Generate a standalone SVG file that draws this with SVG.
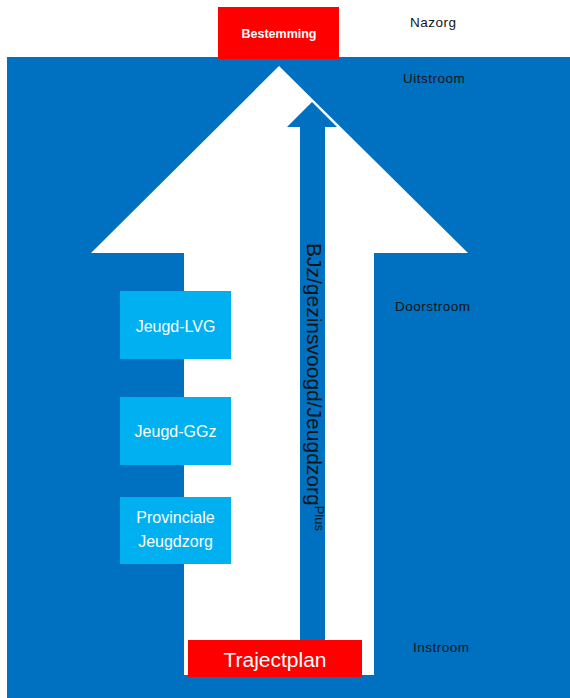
<svg xmlns="http://www.w3.org/2000/svg" width="570" height="698" viewBox="0 0 570 698">
<style>
.lbl{font-family:"Liberation Sans",Arial,sans-serif;font-size:13.5px;letter-spacing:0.5px;fill:#141414}
.box{fill:#00B0F0}
.boxt{font-family:"Liberation Sans",Arial,sans-serif;font-size:16px;fill:#ffffff;text-anchor:middle}
.red{fill:#FF0000}
</style>
<rect width="570" height="698" fill="#ffffff"/>
<rect id="background" x="7" y="57" width="563" height="641" fill="#0070C0"/>
<g id="big-arrow">
<polygon points="279,66 468,253 374,253 374,675 184,675 184,253 91,253" fill="#ffffff"/>
</g>
<g id="connectors">
<polygon points="312,102 337,127 325,127 325,640 300,640 300,127 287,127" fill="#0070C0"/>
<text transform="translate(307,243) rotate(90)" font-family="Liberation Sans,Arial,sans-serif" font-size="21" fill="#141414">BJz/gezinsvoogd/Jeugdzorg<tspan font-size="13" dy="-8">Plus</tspan></text>
</g>
<g id="bestemming">
<rect class="red" x="218" y="7" width="121" height="52"/>
<text x="279" y="38" font-family="Liberation Sans,Arial,sans-serif" font-size="12.5" font-weight="bold" fill="#ffffff" text-anchor="middle">Bestemming</text>
</g>
<g id="jeugd-lvg">
<rect class="box" x="120" y="291" width="111" height="68"/>
<text class="boxt" x="175.5" y="332">Jeugd-LVG</text>
</g>
<g id="jeugd-ggz">
<rect class="box" x="120" y="397" width="111" height="68"/>
<text class="boxt" x="175.5" y="437">Jeugd-GGz</text>
</g>
<g id="provinciale-jeugdzorg">
<rect class="box" x="120" y="497" width="111" height="67"/>
<text class="boxt" x="175.5" y="523">Provinciale</text>
<text class="boxt" x="175.5" y="547">Jeugdzorg</text>
</g>
<g id="trajectplan">
<rect class="red" x="188" y="640" width="174" height="37"/>
<text x="275" y="667" font-family="Liberation Sans,Arial,sans-serif" font-size="21" fill="#ffffff" text-anchor="middle">Trajectplan</text>
</g>
<g id="labels">
<text class="lbl" x="410" y="27">Nazorg</text>
<text class="lbl" x="403" y="83">Uitstroom</text>
<text class="lbl" x="395" y="311">Doorstroom</text>
<text class="lbl" x="413" y="652">Instroom</text>
</g>
</svg>
